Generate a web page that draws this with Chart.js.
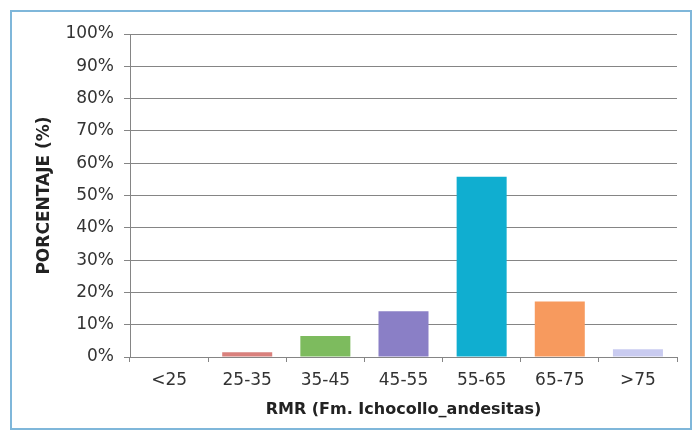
<!DOCTYPE html>
<html lang="es">
<head>
  <meta charset="UTF-8">
  <title>RMR Fm. Ichocollo_andesitas</title>
  <script src="https://cdn.jsdelivr.net/npm/chart.js"></script>
  <style>
    body { margin: 0; background: #fff; }
    #wrap { position: relative; width: 698px; height: 433px; }
    #frame { position: absolute; left: 10px; top: 10px; width: 678px; height: 416px;
             border: 2px solid #7fb7da; pointer-events: none; }
  </style>
</head>
<body>
  <div id="wrap">
    <canvas id="rmrChart" width="698" height="433"></canvas>
    <div id="frame"></div>
  </div>
  <script>
    // datos
    const categorias = ['<25', '25-35', '35-45', '45-55', '55-65', '65-75', '>75'];
    const porcentajes = [0, 1.5, 6.5, 14.2, 55.8, 17.2, 2.4];
    const colores = ['#d9807c', '#d9807c', '#7dbb5e', '#8a7fc6', '#10aed0', '#f79a5e', '#c9cbf0'];
    const ticksY = [0, 10, 20, 30, 40, 50, 60, 70, 80, 90, 100];

    const fuente = 'DejaVu Sans';
    const gris = '#858585';

    new Chart(document.getElementById('rmrChart'), {
      type: 'bar',
      data: {
        labels: categorias,
        datasets: [{
          data: porcentajes,
          backgroundColor: colores,
          barPercentage: 0.64,
          categoryPercentage: 1
        }]
      },
      options: {
        responsive: false,
        animation: false,
        layout: { padding: { left: 30, top: 34, right: 21, bottom: 10 } },
        plugins: { legend: { display: false }, tooltip: { enabled: false } },
        scales: {
          x: {
            grid: { display: true, drawOnChartArea: false, offset: true, color: gris, tickLength: 5 },
            border: { color: gris },
            ticks: { color: '#333', font: { family: fuente, size: 17 }, padding: 8 },
            title: { display: true, text: 'RMR (Fm. Ichocollo_andesitas)', color: '#222',
                     font: { family: fuente, size: 16, weight: 'bold' }, padding: { top: 6 } },
            afterFit: function(s) { s.height = 66; }
          },
          y: {
            min: 0, max: 100,
            afterBuildTicks: function(s) { s.ticks = ticksY.map(v => ({ value: v })); },
            grid: { color: gris, tickLength: 6 },
            border: { color: gris },
            ticks: { color: '#333', font: { family: fuente, size: 17 }, padding: 10,
                     callback: v => v + '%' },
            title: { display: true, text: 'PORCENTAJE (%)', color: '#222',
                     font: { family: fuente, size: 17, weight: 'bold' } },
            afterFit: function(s) { s.width = 100; }
          }
        }
      }
    });
  </script>
</body>
</html>
